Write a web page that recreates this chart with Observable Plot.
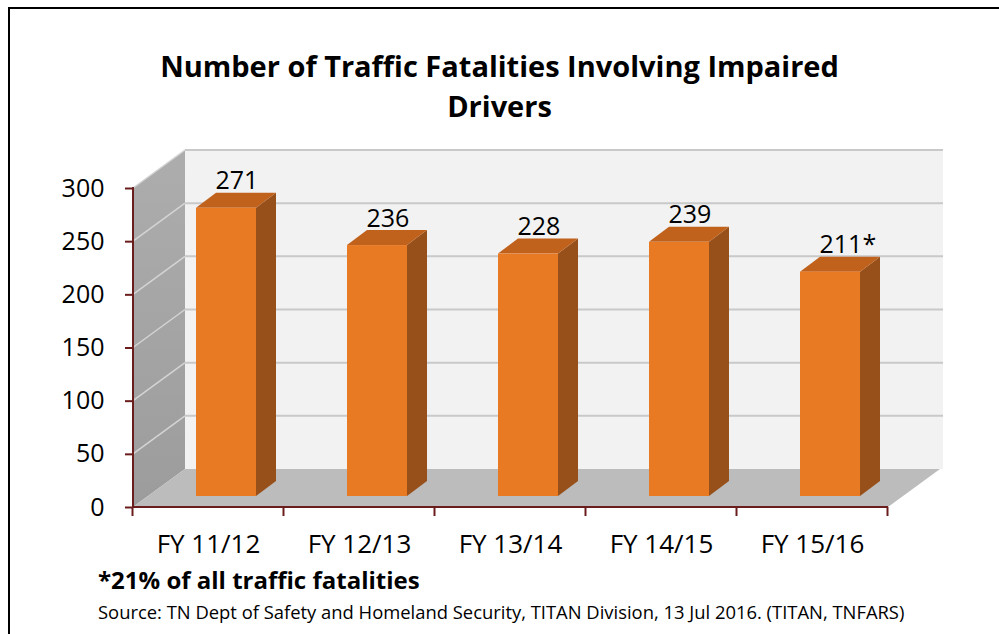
<!DOCTYPE html>
<html>
<head>
<meta charset="utf-8">
<script src="https://cdn.jsdelivr.net/npm/d3@7"></script>
<script src="https://cdn.jsdelivr.net/npm/@observablehq/plot@0.6"></script>
<style>
  body { margin: 0; background: #fff; font-family: "Open Sans", sans-serif; }
  #wrap { position: relative; width: 999px; height: 634px; overflow: hidden; background: #fff; }
  #chart { position: absolute; left: 0; top: 0; }
  #border { position: absolute; left: 8px; top: 7px; width: 1100px; height: 800px;
            border-left: 2.5px solid #000; border-top: 2.5px solid #000; }
  #title { position: absolute; top: 46px; left: 0; width: 999px; text-align: center;
           font-weight: 700; font-size: 29px; line-height: 40px; color: #000; }
  #note { position: absolute; left: 98px; top: 563px; font-weight: 700; font-size: 24px; color: #000; }
  #source { position: absolute; left: 98px; top: 599px; font-size: 18.4px; color: #000; }
</style>
</head>
<body>
<div id="wrap">
  <div id="chart"></div>
  <div id="border"></div>
  <div id="title">Number of Traffic Fatalities Involving Impaired<br>Drivers</div>
  <div id="note">*21% of all traffic fatalities</div>
  <div id="source">Source: TN Dept of Safety and Homeland Security, TITAN Division, 13 Jul 2016. (TITAN, TNFARS)</div>
</div>
<script>
// ---- data ----
const categories = ["FY 11/12", "FY 12/13", "FY 13/14", "FY 14/15", "FY 15/16"];
const fatalities = [271, 236, 228, 239, 211];
const valueLabels = ["271", "236", "228", "239", "211*"];
const yTicks = [0, 50, 100, 150, 200, 250, 300];
const yMax = 300;

// ---- style / 3D geometry (pixels) ----
const WALL_DX = 52, WALL_DY = -38;
const BAR_DX = 18, BAR_DY = -11;
const BAR_DEPTH_X = 20, BAR_DEPTH_Y = -15;
const MAROON = "#6b1d1d";
const ORANGE = "#e87a24", ORANGE_SIDE = "#97501a", ORANGE_TOP = "#c0611c";

const table = categories.map((c, i) => ({category: c, value: fatalities[i], label: valueLabels[i]}));

function pts(a) { return a.map(p => p.join(",")).join(" "); }

function walls(index, scales, values, dims) {
  const y = scales.y;
  const xl = dims.marginLeft, xr = dims.width - dims.marginRight;
  const yb = y(0), yt = y(yMax);
  const g = d3.create("svg:g");
  const defs = g.append("defs");
  const lg = defs.append("linearGradient").attr("id", "sidewall").attr("x1", 0).attr("x2", 0).attr("y1", 0).attr("y2", 1);
  lg.append("stop").attr("offset", "0%").attr("stop-color", "#adadad");
  lg.append("stop").attr("offset", "100%").attr("stop-color", "#9c9c9c");
  g.append("polygon").attr("points", pts([[xl, yt], [xl + WALL_DX, yt + WALL_DY], [xl + WALL_DX, yb + WALL_DY], [xl, yb]]))
    .attr("fill", "url(#sidewall)");
  g.append("polygon").attr("points", pts([[xl + WALL_DX, yt + WALL_DY], [xr + WALL_DX + 3, yt + WALL_DY], [xr + WALL_DX + 3, yb + WALL_DY], [xl + WALL_DX, yb + WALL_DY]]))
    .attr("fill", "#f2f2f2");
  for (const t of yTicks) {
    if (t === 0) continue;
    const yy = y(t);
    g.append("line").attr("x1", xl + WALL_DX).attr("x2", xr + WALL_DX + 3)
      .attr("y1", yy + WALL_DY).attr("y2", yy + WALL_DY)
      .attr("stroke", "#c9c9c9").attr("stroke-width", 2);
    g.append("line").attr("x1", xl).attr("x2", xl + WALL_DX)
      .attr("y1", yy).attr("y2", yy + WALL_DY)
      .attr("stroke", "#d4d4d4").attr("stroke-width", 1.5);
  }
  g.append("polygon").attr("points", pts([[xl, yb], [xr, yb], [xr + WALL_DX, yb + WALL_DY], [xl + WALL_DX, yb + WALL_DY]]))
    .attr("fill", "#bcbcbc");
  return g.node();
}

function barFaces(index, scales, values, dims) {
  const {x, y} = scales;
  const bw = x.bandwidth();
  const g = d3.create("svg:g");
  table.forEach(d => {
    const l = x(d.category) + BAR_DX, r = l + bw;
    const top = y(d.value) + BAR_DY, bot = y(0) + BAR_DY;
    g.append("polygon").attr("points", pts([[r, top], [r + BAR_DEPTH_X, top + BAR_DEPTH_Y], [r + BAR_DEPTH_X, bot + BAR_DEPTH_Y], [r, bot]]))
      .attr("fill", ORANGE_SIDE);
    g.append("polygon").attr("points", pts([[l, top], [r, top], [r + BAR_DEPTH_X, top + BAR_DEPTH_Y], [l + BAR_DEPTH_X, top + BAR_DEPTH_Y]]))
      .attr("fill", ORANGE_TOP);
  });
  return g.node();
}

function frontAxes(index, scales, values, dims) {
  const {x, y} = scales;
  const xl = dims.marginLeft, xr = dims.width - dims.marginRight;
  const yb = y(0), yt = y(yMax);
  const g = d3.create("svg:g").attr("stroke", MAROON).attr("stroke-width", 2);
  g.append("line").attr("x1", xl).attr("x2", xl).attr("y1", yt - 1).attr("y2", yb + 1);
  g.append("line").attr("x1", xl).attr("x2", xr).attr("y1", yb).attr("y2", yb);
  const step = x.step(), bw = x.bandwidth();
  const bounds = categories.map(c => x(c) - (step - bw) / 2);
  bounds.push(x(categories[categories.length - 1]) + bw + (step - bw) / 2);
  for (const b of bounds) {
    g.append("line").attr("x1", b).attr("x2", b).attr("y1", yb).attr("y2", yb + 9);
  }
  return g.node();
}

const chart = Plot.plot({
  width: 999,
  height: 634,
  marginLeft: 133,
  marginRight: 111,
  marginTop: 188,
  marginBottom: 127,
  style: {fontFamily: "Open Sans", fontSize: "25px", color: "#000", background: "transparent", overflow: "visible"},
  x: {type: "band", domain: categories, paddingInner: 0.6, paddingOuter: 0.3, label: null},
  y: {domain: [0, yMax], label: null},
  marks: [
    walls,
    barFaces,
    Plot.barY(table, {x: "category", y: "value", fill: ORANGE, dx: BAR_DX, dy: BAR_DY}),
    Plot.text(table, {x: "category", y: "value", text: "label", textAnchor: "start", lineAnchor: "bottom",
                      dx: 7, dy: BAR_DY + BAR_DEPTH_Y - 4, fill: "#000", fontSize: 25}),
    frontAxes,
    Plot.axisY({ticks: yTicks, tickSize: 8, tickPadding: 21, stroke: MAROON, strokeWidth: 2, fill: "#000", fontSize: 25}),
    Plot.axisX({tickSize: 0, tickPadding: 27, fill: "#000", fontSize: 26})
  ]
});
document.getElementById("chart").appendChild(chart);
</script>
</body>
</html>
